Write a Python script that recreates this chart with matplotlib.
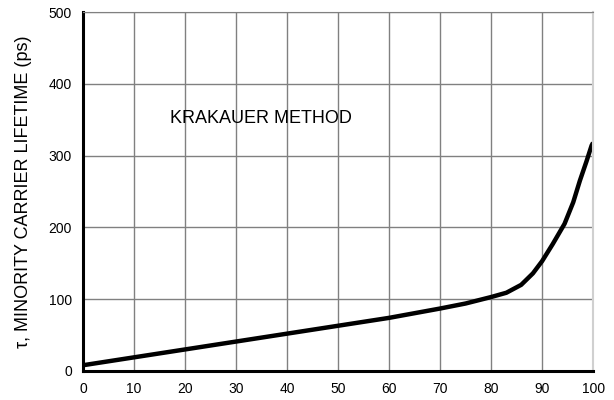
import numpy as np
import matplotlib.pyplot as plt

plt.rcParams['font.family'] = ['Liberation Sans', 'DejaVu Sans']

# curve
x = [0, 10, 20, 30, 40, 50, 60, 70, 75, 80, 83, 85.9, 88.2, 90, 92.1, 94.4,
     96.1, 97.4, 98.7, 99.7, 100]
tau = [8, 19, 30, 41, 52, 63, 74, 87, 94, 103, 109, 120, 136, 153, 177, 205,
       235, 265, 292, 314, 318]

xticks = np.arange(0, 101, 10)
yticks = np.arange(0, 501, 100)

fig = plt.figure(figsize=(6.14, 4.0), dpi=100)
ax = fig.add_axes([0.135, 0.0725, 0.831, 0.8975])

ax.set_xlim(0, 100)
ax.set_ylim(0, 500)
ax.set_xticks(xticks)
ax.set_yticks(yticks)
ax.grid(True, color='#808080', linewidth=1.0)
ax.set_axisbelow(True)

ax.plot(x, tau, color='black', linewidth=3.2, solid_capstyle='butt',
        solid_joinstyle='round')

for s in ['left', 'bottom']:
    ax.spines[s].set_linewidth(2.2)
    ax.spines[s].set_color('black')
ax.spines['top'].set_color('#808080')
ax.spines['right'].set_color('#d0d0d0')
ax.spines['right'].set_linewidth(1.5)

ax.tick_params(length=0, labelsize=10)
ax.tick_params(axis='y', pad=8)
ax.tick_params(axis='x', pad=8)
ax.set_ylabel('τ, MINORITY CARRIER LIFETIME (ps)', fontsize=13)
ax.yaxis.set_label_coords(-0.1, 0.5)

ax.text(17, 352, 'KRAKAUER METHOD', fontsize=13, va='center', ha='left')

fig.savefig('out.png', dpi=100)
